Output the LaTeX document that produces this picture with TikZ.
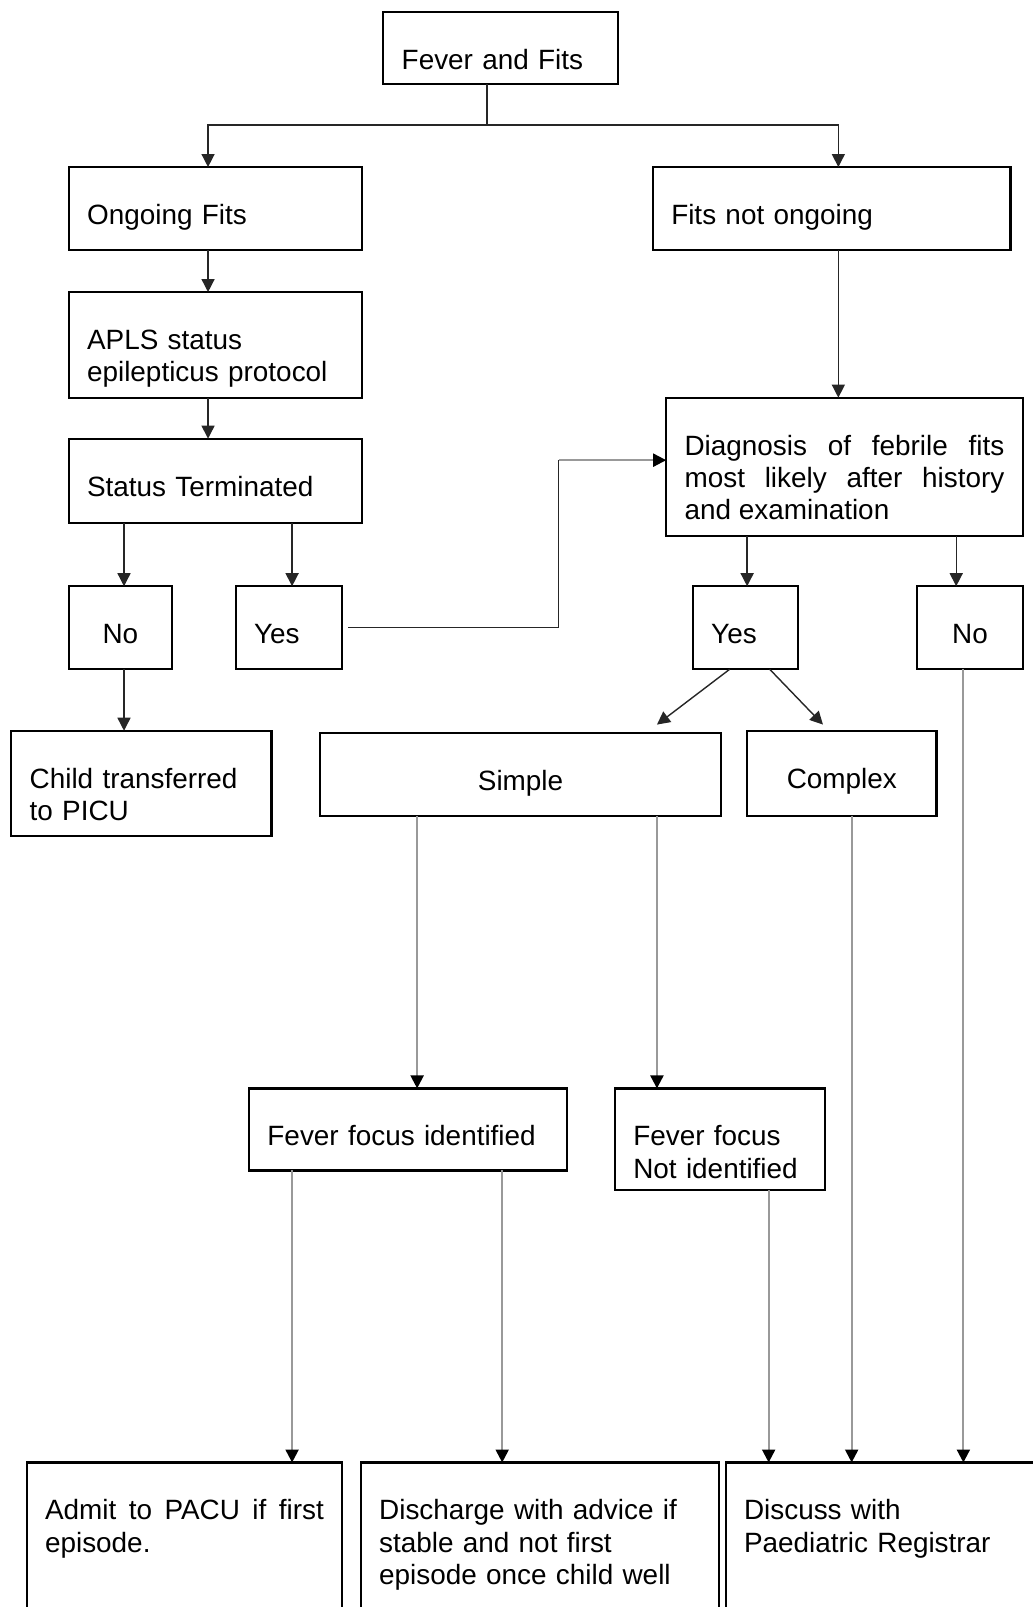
\documentclass[tikz,border=0pt]{standalone}
\usepackage{fontspec}
\setmainfont{Liberation Sans}
\usetikzlibrary{arrows.meta}
\tolerance=9999
\hyphenpenalty=10000

\begin{document}
\begin{tikzpicture}[x=0.5124pt, y=-0.5124pt,
    box/.style={draw, line width=1.1pt, anchor=north west, outer sep=0pt, inner xsep=9.2pt, inner ysep=0pt,
                align=left, text height=28.7pt, font=\fontsize{13.95}{16.14}\selectfont},
    wire/.style={draw=black!85, line width=0.7pt},
    link/.style={wire, -{Triangle[length=6.5pt, width=6.5pt]}},
    farlink/.style={draw=black!40, line width=1.1pt, -{Triangle[length=6.5pt, width=6.5pt, color=black]}}]
    \useasboundingbox (0,0) rectangle (1007,1568);

    \node[box, text width=98.9pt, text depth=7.2pt] (fever) at (374,12) {Fever and Fits};
    \node[box, text width=128.1pt, text depth=12.8pt] (ongoing) at (67,163) {Ongoing Fits};
    \node[box, text width=160.4pt, text depth=12.8pt] (notongoing) at (637,163) {Fits not ongoing};
    \node[box, text width=128.1pt, text depth=24.1pt] (apls) at (67,285) {APLS status\\epilepticus protocol};
    \node[box, text width=128.1pt, text depth=13.3pt] (status) at (67,428) {Status Terminated};
    \node[box, align=justify, text width=159.9pt, text depth=40.5pt] (diag) at (650,388) {Diagnosis of febrile fits most likely after history and examination};
    \node[box, align=center, text width=33.3pt, text depth=12.8pt] (no1) at (67,572) {No};
    \node[box, text width=34.8pt, text depth=12.8pt] (yes1) at (230,572) {Yes};
    \node[box, text width=34.3pt, text depth=12.8pt] (yes2) at (676,572) {Yes};
    \node[box, align=center, text width=34.3pt, text depth=12.8pt] (no2) at (895,572) {No};
    \node[box, text width=111.7pt, text depth=24.1pt] (picu) at (11,713) {Child transferred\\to PICU};
    \node[box, align=center, text width=182.4pt, text depth=12.8pt] (simple) at (312,715) {Simple};
    \node[box, align=center, text width=76.3pt, text depth=13.8pt] (complex) at (729,713) {Complex};
    \node[box, text width=140.4pt, text depth=12.3pt] (focus) at (243,1062) {Fever focus identified};
    \node[box, text width=86.6pt, text depth=22pt] (nofocus) at (600,1062) {Fever focus\\Not identified};
    \node[box, align=justify, text width=139.4pt, text depth=68pt] (admit) at (26,1427) {Admit to PACU if first episode.};
    \node[box, text width=160.9pt, text depth=68pt] (discharge) at (352,1427) {Discharge with advice if\\stable and not first\\episode once child well};
    \node[box, text width=150.6pt, text depth=68pt] (discuss) at (708,1427) {Discuss with\\Paediatric Registrar};

    \coordinate (split) at (475,122);
    \draw[wire] (fever.south -| split) -- (split);
    \draw[link] (split) -| (ongoing.north -| 203,0);
    \draw[link] (split) -| (notongoing.north -| 818,0);

    \foreach \a/\b/\x in {ongoing/apls/203, apls/status/203, status/no1/121, status/yes1/285,
                          no1/picu/121, notongoing/diag/818, diag/yes2/729, diag/no2/933}
        \draw[link] (\a.south -| \x,0) -- (\b.north -| \x,0);

    \foreach \a/\b/\x in {simple/focus/407, simple/nofocus/641, complex/discuss/831, no2/discuss/940,
                          focus/admit/285, focus/discharge/490, nofocus/discuss/750}
        \draw[farlink] (\a.south -| \x,0) -- (\b.north -| \x,0);

    \coordinate (turn) at (545,449);
    \draw[wire] ([xshift=3pt]yes1.east) -| (turn);
    \draw[farlink] (turn) -- (diag.west |- turn);

    \coordinate (simpletip) at (641,707);
    \coordinate (complextip) at (803,707);
    \draw[link] (yes2.south -| 712,0) -- (simpletip);
    \draw[link] (yes2.south -| 751,0) -- (complextip);
\end{tikzpicture}
\end{document}
